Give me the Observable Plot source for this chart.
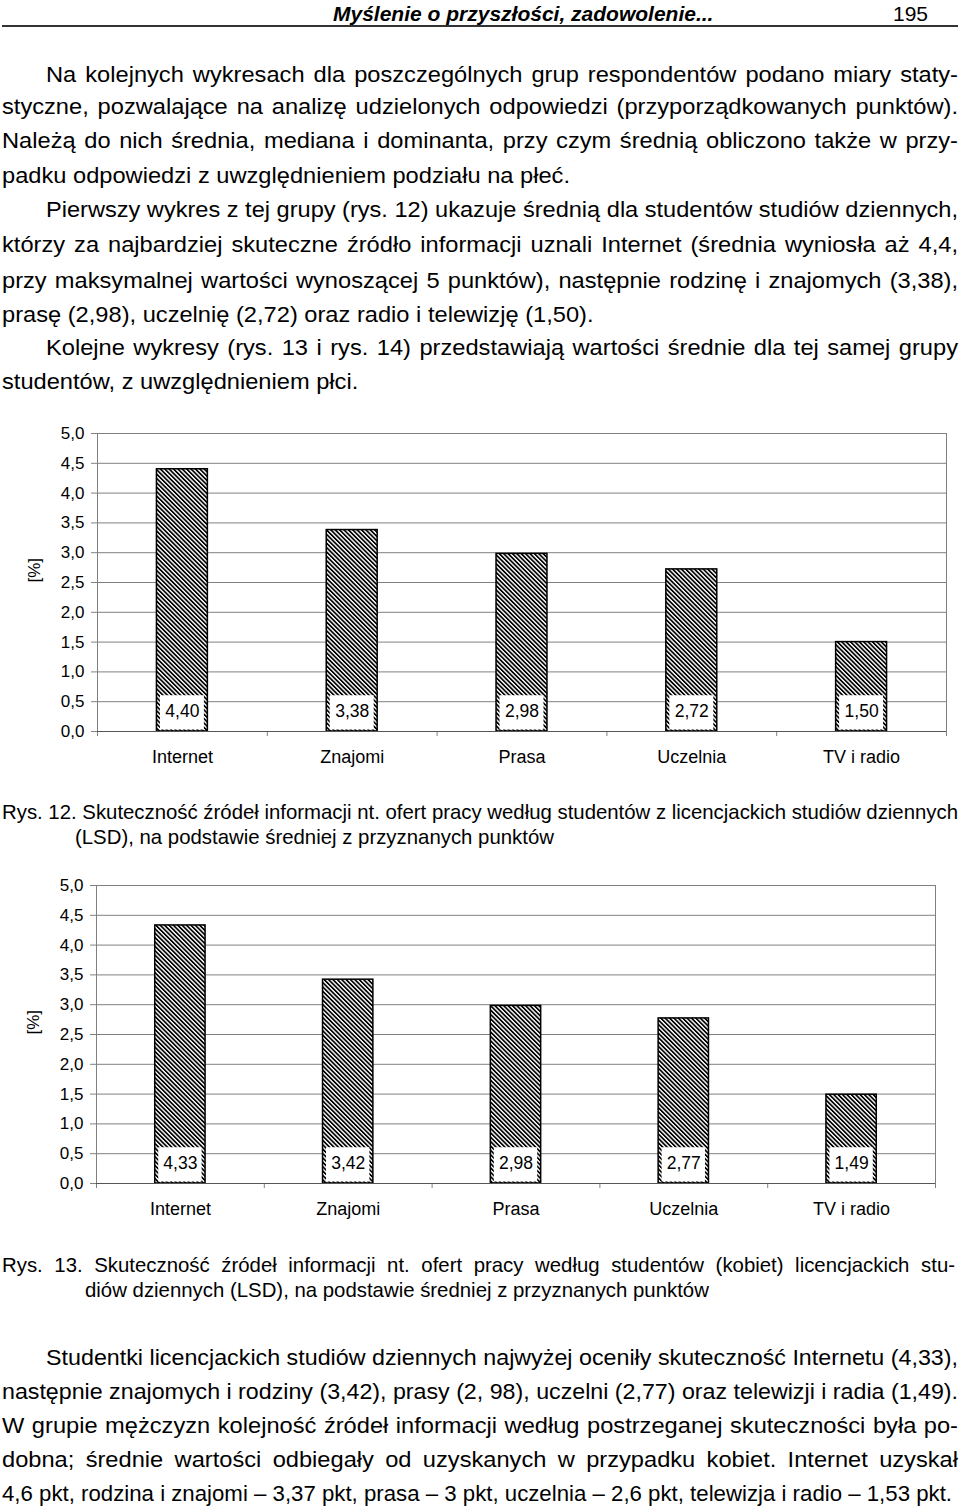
<!DOCTYPE html>
<html><head><meta charset="utf-8">
<script src="https://cdn.jsdelivr.net/npm/d3@7"></script>
<script src="https://cdn.jsdelivr.net/npm/@observablehq/plot@0.6"></script>
<style>
html,body{margin:0;padding:0;background:#fff;}
body{width:960px;height:1506px;position:relative;overflow:hidden;font-family:"Liberation Sans",Arial,sans-serif;color:#000;}
.l{position:absolute;line-height:26px;white-space:nowrap;transform-origin:0 0;}
.body{font-size:21.5px;}
.cap{font-size:21px;}
.hdr{font-size:21px;}
.chart{position:absolute;left:0;}
</style></head>
<body>
<div id="page"></div>
<script>
// ---- chart data ----
const categories = ["Internet", "Znajomi", "Prasa", "Uczelnia", "TV i radio"];
const valuesAll = [4.40, 3.38, 2.98, 2.72, 1.50];     // Rys. 12
const valuesWomen = [4.33, 3.42, 2.98, 2.77, 1.49];   // Rys. 13
const yTicks = [0, 0.5, 1, 1.5, 2, 2.5, 3, 3.5, 4, 4.5, 5];
const yLabel = "[%]";

// ---- page text ----
// [text, left, width, centerY, justified, class]
const lines = [
  ["Na kolejnych wykresach dla poszczególnych grup respondentów podano miary staty-", 46, 912, 75, true],
  ["styczne, pozwalające na analizę udzielonych odpowiedzi (przyporządkowanych punktów).", 2, 956, 107, true],
  ["Należą do nich średnia, mediana i dominanta, przy czym średnią obliczono także w przy-", 2, 956, 141, true],
  ["padku odpowiedzi z uwzględnieniem podziału na płeć.", 2, 956, 176, false],
  ["Pierwszy wykres z tej grupy (rys. 12) ukazuje średnią dla studentów studiów dziennych,", 46, 912, 210, true],
  ["którzy za najbardziej skuteczne źródło informacji uznali Internet (średnia wyniosła aż 4,4,", 2, 956, 245, true],
  ["przy maksymalnej wartości wynoszącej 5 punktów), następnie rodzinę i znajomych (3,38),", 2, 956, 281, true],
  ["prasę (2,98), uczelnię (2,72) oraz radio i telewizję (1,50).", 2, 956, 315, false],
  ["Kolejne wykresy (rys. 13 i rys. 14) przedstawiają wartości średnie dla tej samej grupy", 46, 912, 348, true],
  ["studentów, z uwzględnieniem płci.", 2, 956, 382, false],
  ["Rys. 12. Skuteczność źródeł informacji nt. ofert pracy według studentów z licencjackich studiów dziennych", 2, 956, 812, true, "cap"],
  ["(LSD), na podstawie średniej z przyznanych punktów", 75, 880, 837, false, "cap"],
  ["Rys. 13. Skuteczność źródeł informacji nt. ofert pracy według studentów (kobiet) licencjackich stu-", 2, 953, 1265, true, "cap"],
  ["diów dziennych (LSD), na podstawie średniej z przyznanych punktów", 85, 870, 1290, false, "cap"],
  ["Studentki licencjackich studiów dziennych najwyżej oceniły skuteczność Internetu (4,33),", 46, 912, 1358, true],
  ["następnie znajomych i rodziny (3,42), prasy (2, 98), uczelni (2,77) oraz telewizji i radia (1,49).", 2, 956, 1392, true],
  ["W grupie mężczyzn kolejność źródeł informacji według postrzeganej skuteczności była po-", 2, 956, 1426, true],
  ["dobna; średnie wartości odbiegały od uzyskanych w przypadku kobiet. Internet uzyskał", 2, 956, 1460, true],
  ["4,6 pkt, rodzina i znajomi – 3,37 pkt, prasa – 3 pkt, uczelnia – 2,6 pkt, telewizja i radio – 1,53 pkt.", 2, 950, 1494, false]
];

const page = document.getElementById("page");
function placeLine(t, left, w, cy, just, cls) {
  cls = cls || "body";
  const d = document.createElement("div");
  d.className = "l " + cls;
  d.style.left = left + "px";
  d.style.top = (cy - 13) + "px";
  d.textContent = t;
  page.appendChild(d);
  const nat = d.getBoundingClientRect().width;
  const maxS = cls === "cap" ? 0.97 : 1.1;
  const s = Math.min(maxS, w / nat);
  if (just && nat * s < w) {
    const spaces = (t.match(/ /g) || []).length;
    if (spaces) d.style.wordSpacing = ((w / s - nat) / spaces) + "px";
  }
  d.style.transform = `scaleX(${s})`;
}
for (const ln of lines) placeLine(...ln);

// header
const h1 = document.createElement("div");
h1.className = "l hdr";
h1.style.cssText = "left:333px;top:1px;font-weight:bold;font-style:italic;";
h1.textContent = "Myślenie o przyszłości, zadowolenie...";
page.appendChild(h1);
const h2 = document.createElement("div");
h2.className = "l hdr";
h2.style.cssText = "left:893px;top:1px;";
h2.textContent = "195";
page.appendChild(h2);
const hr = document.createElement("div");
hr.style.cssText = "position:absolute;left:2px;width:956px;top:25px;height:2px;background:#333;";
page.appendChild(hr);

// ---- charts ----
function addPattern(svg, id) {
  const ns = "http://www.w3.org/2000/svg";
  const defs = document.createElementNS(ns, "defs");
  const pat = document.createElementNS(ns, "pattern");
  pat.setAttribute("id", id);
  pat.setAttribute("patternUnits", "userSpaceOnUse");
  pat.setAttribute("width", "3.1");
  pat.setAttribute("height", "3.1");
  pat.setAttribute("patternTransform", "rotate(-45)");
  const bg = document.createElementNS(ns, "rect");
  bg.setAttribute("width", "3.1"); bg.setAttribute("height", "3.1"); bg.setAttribute("fill", "#fff");
  const r = document.createElementNS(ns, "rect");
  r.setAttribute("width", "1.7"); r.setAttribute("height", "3.1"); r.setAttribute("fill", "#000");
  pat.appendChild(bg); pat.appendChild(r);
  defs.appendChild(pat);
  svg.insertBefore(defs, svg.firstChild);
}

function chart(values, patternId, top, ml, mr) {
  const data = categories.map((c, i) => ({c, i, v: values[i]}));
  const n = categories.length;
  const svg = Plot.plot({
    width: 960,
    height: 361,
    marginLeft: ml,
    marginRight: mr,
    marginTop: 18,
    marginBottom: 45,
    style: {fontFamily: "'Liberation Sans', Arial, sans-serif", background: "transparent", color: "#000", overflow: "visible"},
    x: {domain: [0, n]},
    y: {domain: [0, 5]},
    marks: [
      Plot.ruleY(yTicks, {stroke: "#808080", strokeWidth: 1}),
      Plot.ruleX([0, n], {stroke: "#808080", strokeWidth: 1}),
      Plot.axisY({ticks: yTicks, tickFormat: v => v.toFixed(1).replace(".", ","), tickSize: 6, tickPadding: 7,
        stroke: "#808080", fill: "#000", fontSize: 17, label: null}),
      Plot.text([yLabel], {frameAnchor: "left", text: d => d, rotate: -90, dx: -63, fontSize: 17, fill: "#000"}),
      Plot.axisX({ticks: d3.range(n + 1), tickFormat: () => "", tickSize: 5, stroke: "#808080", label: null}),
      Plot.axisX({ticks: data.map(d => d.i + 0.5), tickFormat: t => categories[Math.floor(t)], tickSize: 0, tickPadding: 19,
        fill: "#000", fontSize: 18, label: null}),
      Plot.rectY(data, {x1: d => d.i + 0.35, x2: d => d.i + 0.65, y1: 0, y2: "v",
        fill: `url(#${patternId})`, stroke: "#000", strokeWidth: 1.5}),
      Plot.rectY(data, {x1: d => d.i + 0.35, x2: d => d.i + 0.65, y1: 0, y2: 0.6,
        fill: "#fff", insetLeft: 3.5, insetRight: 3.5, insetBottom: 1.5}),
      Plot.text(data, {x: d => d.i + 0.5, y: 0, text: d => d.v.toFixed(2).replace(".", ","), dy: -20, fontSize: 17.5, fill: "#000"}),
      Plot.ruleY([0], {stroke: "#555", strokeWidth: 1})
    ]
  });
  addPattern(svg, patternId);
  const wrap = document.createElement("div");
  wrap.className = "chart";
  wrap.style.top = top + "px";
  wrap.appendChild(svg);
  page.appendChild(wrap);
}

chart(valuesAll, "hatch12", 415, 97, 14);
chart(valuesWomen, "hatch13", 867, 96, 25);
</script>
</body></html>
